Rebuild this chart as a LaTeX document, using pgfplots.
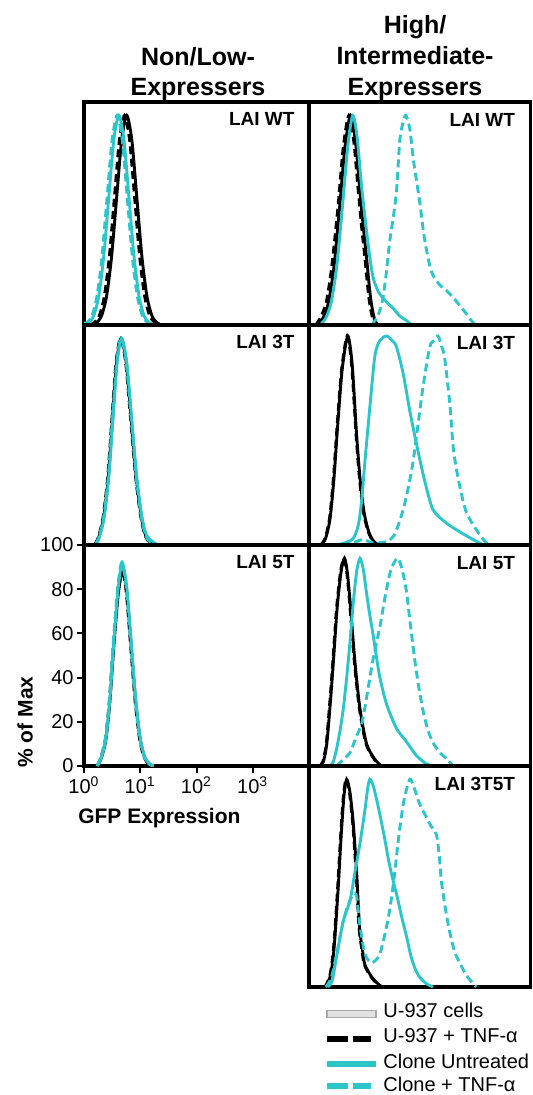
\documentclass[border=0pt]{standalone}
\usepackage{fontspec}
\setmainfont{Liberation Sans}
\usepackage{xcolor}
\usepackage{pgfplots}
\pgfplotsset{compat=1.18}
\definecolor{cCyan}{HTML}{2CC5C9}
\definecolor{cGrayFill}{HTML}{E2E2E2}
\definecolor{cGrayEdge}{HTML}{A8A8A8}

% px -> pt at 0.5
\pgfplotsset{
  panel/.style={
    scale only axis, anchor=north west,
    xmin=0, xmax=4, ymin=0, ymax=100,
    axis line style={line width=1.8pt, black},
    xtick=\empty, ytick=\empty,
  },
  u937/.style={draw=black, line width=1.45pt, smooth, tension=0.45},
  u937tnf/.style={draw=black, line width=1.45pt, smooth, tension=0.45, dash pattern=on 4pt off 2.2pt},
  cln/.style={draw=cCyan, line width=1.45pt, smooth, tension=0.45},
  clntnf/.style={draw=cCyan, line width=1.45pt, smooth, tension=0.45, dash pattern=on 4pt off 2.2pt},
}
\tikzset{lab/.style={anchor=base east, font=\fontsize{9.5}{11}\selectfont\bfseries}}

\begin{document}
\begin{tikzpicture}
\useasboundingbox (0,0) rectangle (266pt,-547.5pt);

% ---------- left column ----------
\begin{axis}[panel, at={(42pt,-51pt)}, width=112.5pt, height=111.5pt]
\addplot[u937] coordinates {(0.14,0) (0.22,1) (0.31,4) (0.40,12.7) (0.49,30.5) (0.58,57) (0.67,83) (0.76,94) (0.85,83) (0.94,57) (1.03,30.5) (1.12,12.7) (1.21,4) (1.30,1) (1.38,0)};
\addplot[u937tnf] coordinates {(0.10,0) (0.18,1) (0.27,4) (0.36,12.7) (0.45,30.5) (0.54,57) (0.63,83) (0.72,94) (0.81,83) (0.90,57) (0.99,30.5) (1.08,12.7) (1.17,4) (1.26,1) (1.34,0)};
\addplot[cln] coordinates {(0.00,0) (0.08,1) (0.17,4) (0.26,12.7) (0.35,30.5) (0.44,57) (0.53,83) (0.62,94) (0.71,83) (0.80,57) (0.89,30.5) (0.98,12.7) (1.07,4) (1.16,1) (1.24,0)};
\addplot[clntnf] coordinates {(0.00,1) (0.05,1) (0.14,4) (0.23,12.7) (0.32,30.5) (0.41,57) (0.50,83) (0.59,94) (0.68,83) (0.77,57) (0.86,30.5) (0.95,12.7) (1.04,4) (1.13,1) (1.21,0)};
\node[lab, xshift=-3.75pt, yshift=-11.75pt] at (rel axis cs:1,1) {LAI WT};
\end{axis}

\begin{axis}[panel, at={(42pt,-162.5pt)}, width=112.5pt, height=110pt]
\addplot[u937] coordinates {(0.20,0) (0.27,4) (0.35,12.7) (0.43,30.5) (0.505,57) (0.58,83) (0.66,94) (0.75,83) (0.84,57) (0.93,30.5) (1.02,12.7) (1.10,4) (1.19,1) (1.28,0)};
\addplot[u937tnf] coordinates {(0.19,0) (0.26,4) (0.34,12.7) (0.42,30.5) (0.495,57) (0.57,83) (0.65,94) (0.74,83) (0.83,57) (0.92,30.5) (1.01,12.7) (1.09,4) (1.18,1) (1.27,0)};
\addplot[cln] coordinates {(0.21,0) (0.28,4) (0.36,12.7) (0.44,30.5) (0.515,57) (0.59,83) (0.67,94) (0.76,83) (0.85,57) (0.94,30.5) (1.03,12.7) (1.11,4.5) (1.20,2) (1.28,0.5) (1.32,0)};
\addplot[clntnf] coordinates {(0.20,0) (0.27,4) (0.35,12.7) (0.43,30.5) (0.505,57) (0.58,83) (0.66,94) (0.75,83) (0.84,57) (0.93,30.5) (1.02,12.7) (1.10,4) (1.19,1) (1.28,0)};
\node[lab, xshift=-3.75pt, yshift=-11.75pt] at (rel axis cs:1,1) {LAI 3T};
\end{axis}

\begin{axis}[panel, at={(42pt,-272.5pt)}, width=112.5pt, height=110.5pt,
  ytick={0,20,40,60,80,100}, yticklabels={0,20,40,60,80,100},
  xtick={0,1,2,3}, xticklabels={10\textsuperscript{0},10\textsuperscript{1},10\textsuperscript{2},10\textsuperscript{3}},
  xtick pos=bottom, ytick pos=left, tick align=outside,
  major tick length=3.5pt, tick style={line width=1pt, black},
  tick label style={font=\fontsize{10}{12}\selectfont},
  yticklabel style={inner sep=1.5pt}, xticklabel style={inner sep=1.5pt}]
\addplot[u937] coordinates {(0.24,0) (0.31,3.8) (0.39,12) (0.46,29) (0.53,54) (0.61,78) (0.69,89) (0.76,79) (0.84,54) (0.92,29) (1.00,12) (1.08,3.8) (1.16,1) (1.22,0)};
\addplot[u937tnf] coordinates {(0.23,0) (0.30,3.8) (0.38,12) (0.45,29) (0.52,54) (0.60,78) (0.68,88) (0.75,79) (0.83,54) (0.91,29) (0.99,12) (1.07,3.8) (1.15,1) (1.21,0)};
\addplot[cln] coordinates {(0.24,0) (0.31,4) (0.39,12.5) (0.46,30) (0.53,56) (0.61,81) (0.68,92) (0.76,81) (0.84,56) (0.92,30) (1.00,12.5) (1.08,4) (1.16,1) (1.24,0)};
\addplot[clntnf] coordinates {(0.23,0) (0.30,4) (0.38,12.5) (0.45,30) (0.52,56) (0.60,81) (0.67,92) (0.75,81) (0.83,56) (0.91,30) (0.99,12.5) (1.07,4) (1.15,1) (1.23,0)};
\node[lab, xshift=-3.75pt, yshift=-11.75pt] at (rel axis cs:1,1) {LAI 5T};
\end{axis}

% ---------- right column ----------
\begin{axis}[panel, at={(154.5pt,-51pt)}, width=110.75pt, height=111.5pt]
\addplot[u937] coordinates {(0.17,0) (0.25,3) (0.35,10) (0.45,26) (0.55,52) (0.65,80) (0.75,94) (0.84,82) (0.92,60) (0.98,44) (1.04,30) (1.09,17) (1.13,9) (1.19,2) (1.25,0)};
\addplot[u937tnf] coordinates {(0.12,0) (0.20,3) (0.31,10) (0.41,26) (0.52,52) (0.62,80) (0.72,94) (0.81,82) (0.89,60) (0.95,44) (1.01,30) (1.06,17) (1.10,9) (1.16,2) (1.22,0)};
\addplot[cln] coordinates {(0.20,0) (0.30,3) (0.40,10) (0.50,26) (0.60,52) (0.70,80) (0.79,94) (0.87,84) (0.95,62) (1.04,42) (1.10,30) (1.16,21) (1.25,15) (1.34,12) (1.43,9.5) (1.52,7.5) (1.64,4) (1.76,2) (1.85,0)};
\addplot[clntnf] coordinates {(1.13,0) (1.22,3) (1.31,9) (1.38,20) (1.46,38) (1.52,48) (1.58,60) (1.64,83) (1.70,91) (1.75,94) (1.82,88) (1.88,75) (1.94,65) (2.00,55) (2.09,38) (2.21,24) (2.36,18) (2.48,15.5) (2.60,12.4) (2.78,7) (2.90,3) (3.00,0)};
\node[lab, xshift=-4.25pt, yshift=-12.25pt] at (rel axis cs:1,1) {LAI WT};
\end{axis}

\begin{axis}[panel, at={(154.5pt,-162.5pt)}, width=110.75pt, height=110pt]
\addplot[u937] coordinates {(0.22,0) (0.30,3) (0.38,12) (0.45,30) (0.52,55) (0.60,80) (0.70,95) (0.78,82) (0.86,50) (0.93,28) (1.00,14) (1.08,6) (1.16,2) (1.25,0)};
\addplot[u937tnf] coordinates {(0.21,0) (0.29,3) (0.37,12) (0.44,30) (0.51,55) (0.59,80) (0.69,95) (0.77,82) (0.85,50) (0.92,28) (0.99,14) (1.07,6) (1.15,2) (1.24,0)};
\addplot[cln] coordinates {(0.50,0) (0.65,1) (0.80,3) (0.89,9) (0.95,20) (1.01,38) (1.10,63) (1.19,86) (1.28,93) (1.40,95) (1.50,93) (1.58,90) (1.70,78) (1.82,61) (1.94,46) (2.09,29) (2.24,16) (2.48,10) (2.72,6) (2.96,2.5) (3.15,0)};
\addplot[clntnf] coordinates {(0.60,0) (0.80,1) (0.97,2.5) (1.15,1) (1.40,1.5) (1.55,5) (1.70,16) (1.80,27) (1.88,38) (1.97,55) (2.06,72) (2.18,90) (2.26,93) (2.33,95) (2.40,90) (2.45,85) (2.54,65) (2.61,43) (2.72,27) (2.84,15) (3.02,7) (3.20,1) (3.30,0)};
\node[lab, xshift=-4.25pt, yshift=-12.25pt] at (rel axis cs:1,1) {LAI 3T};
\end{axis}

\begin{axis}[panel, at={(154.5pt,-272.5pt)}, width=110.75pt, height=110.5pt]
\addplot[u937] coordinates {(0.20,0) (0.26,2) (0.32,9.8) (0.38,27) (0.44,47) (0.51,72) (0.58,88) (0.64,94) (0.69,88) (0.74,75) (0.83,47) (0.92,26) (1.04,10) (1.19,3) (1.31,0)};
\addplot[u937tnf] coordinates {(0.19,0) (0.25,2) (0.31,9.8) (0.37,27) (0.43,47) (0.50,72) (0.57,88) (0.63,94) (0.68,88) (0.73,75) (0.82,47) (0.91,26) (1.03,10) (1.18,3) (1.30,0)};
\addplot[cln] coordinates {(0.38,0) (0.44,2) (0.50,8) (0.56,16) (0.62,26) (0.68,40) (0.74,56) (0.80,74) (0.86,88) (0.92,94) (0.98,89) (1.04,78) (1.10,68) (1.16,59) (1.22,49) (1.28,40) (1.40,28) (1.58,17) (1.76,11) (1.94,4.7) (2.12,1) (2.25,0)};
\addplot[clntnf] coordinates {(0.50,0) (0.62,3) (0.74,6) (0.85,13) (0.95,19) (1.02,28) (1.10,40) (1.17,50) (1.28,63) (1.37,76) (1.47,88) (1.59,94) (1.67,90) (1.76,79) (1.83,64) (1.91,48) (1.98,36) (2.06,25) (2.15,16) (2.24,10.6) (2.36,6) (2.48,3.5) (2.60,0)};
\node[lab, xshift=-4.25pt, yshift=-12.25pt] at (rel axis cs:1,1) {LAI 5T};
\end{axis}

\begin{axis}[panel, at={(154.5pt,-383pt)}, width=110.75pt, height=110.5pt]
\addplot[u937] coordinates {(0.30,0) (0.38,4.5) (0.43,12) (0.47,23) (0.53,46) (0.58,68) (0.63,86) (0.68,94) (0.74,88) (0.80,74) (0.86,52) (0.89,37) (0.92,25) (0.97,16) (1.01,10) (1.13,4.6) (1.22,2) (1.32,0)};
\addplot[u937tnf] coordinates {(0.29,0) (0.37,4.5) (0.42,12) (0.46,23) (0.52,46) (0.57,68) (0.62,86) (0.67,94) (0.73,88) (0.79,74) (0.85,52) (0.88,37) (0.91,25) (0.96,16) (1.00,10) (1.12,4.6) (1.21,2) (1.31,0)};
\addplot[cln] coordinates {(0.34,0) (0.42,3) (0.50,14) (0.62,30) (0.74,39) (0.83,52) (0.92,65) (1.01,80) (1.06,90) (1.10,94) (1.16,91) (1.22,85) (1.28,78) (1.36,68) (1.44,57) (1.52,48) (1.60,40) (1.68,31) (1.76,23) (1.84,14) (1.92,8) (2.00,4.4) (2.12,1.5) (2.24,0)};
\addplot[clntnf] coordinates {(0.30,0) (0.40,4) (0.50,15) (0.62,30) (0.72,38) (0.80,42) (0.86,41) (0.92,28) (1.01,15) (1.13,11) (1.28,15) (1.43,31) (1.52,46) (1.58,59) (1.64,72) (1.72,85) (1.82,94) (1.90,90) (1.98,84) (2.05,80) (2.12,77) (2.20,73) (2.30,69) (2.35,60) (2.39,48) (2.46,36) (2.54,25) (2.63,16) (2.72,11) (2.85,5) (3.02,0)};
\node[lab, xshift=-4.25pt, yshift=-12.25pt] at (rel axis cs:1,1) {LAI 3T5T};
\end{axis}

% ---------- titles and axis labels ----------
\begin{scope}[every node/.style={anchor=base, font=\fontsize{12.5}{15}\selectfont\bfseries, inner sep=0pt}]
\node at (99pt,-33pt) {Non/Low-};
\node at (99pt,-47.75pt) {Expressers};
\node at (207.5pt,-17pt) {High/};
\node at (207.5pt,-32.5pt) {Intermediate-};
\node at (207.5pt,-47.75pt) {Expressers};
\end{scope}
\node[anchor=base, inner sep=0pt, font=\fontsize{10.5}{12}\selectfont\bfseries] at (79.7pt,-411.5pt) {GFP Expression};
\node[rotate=90, inner sep=0pt, font=\fontsize{10.5}{12}\selectfont\bfseries] at (12.5pt,-361pt) {\% of Max};

% ---------- legend ----------
\draw[fill=cGrayFill, draw=cGrayEdge, line width=0.6pt] (163.5pt,-505.35pt) rectangle (188pt,-508.65pt);
\draw[black, line width=2.6pt, dash pattern=on 10.5pt off 2.5pt] (163.5pt,-519.5pt) -- (185.5pt,-519.5pt);
\draw[cCyan, line width=2.8pt] (163.5pt,-531.85pt) -- (188pt,-531.85pt);
\draw[cCyan, line width=2.6pt, dash pattern=on 10.5pt off 2.5pt] (163.5pt,-543pt) -- (185.5pt,-543pt);
\begin{scope}[every node/.style={anchor=base west, inner sep=0pt, font=\fontsize{10}{12}\selectfont}]
\node at (191.5pt,-508.85pt) {U-937 cells};
\node at (191.5pt,-521.35pt) {U-937 + TNF-α};
\node at (191.5pt,-534.15pt) {Clone Untreated};
\node at (191.5pt,-545.85pt) {Clone + TNF-α};
\end{scope}
\end{tikzpicture}
\end{document}
